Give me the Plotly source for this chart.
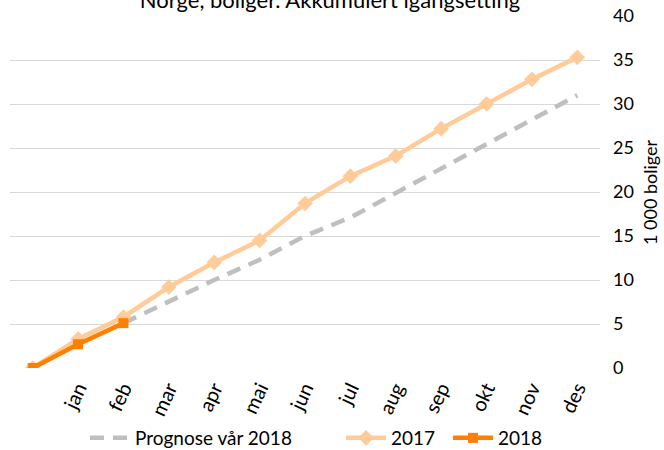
import plotly.graph_objects as go

months = ["", "jan", "feb", "mar", "apr", "mai", "jun", "jul", "aug", "sep", "okt", "nov", "des"]
prognose_2018 = [None, None, 5.1, 7.6, 10.0, 12.3, 15.0, 17.1, 19.9, 22.7, 25.4, 28.3, 31.0]
values_2017 = [0, 3.3, 5.8, 9.2, 12.0, 14.5, 18.7, 21.8, 24.1, 27.2, 30.0, 32.8, 35.3]
values_2018 = [0, 2.7, 5.1]
y_ticks = [0, 5, 10, 15, 20, 25, 30, 35, 40]

idx = list(range(len(months)))
font_family = "Lato, 'Open Sans', sans-serif"

L, R, T, B = 10, 64, 16, 82
W, H = 664, 450
PW = W - L - R
PH = H - T - B


def px2paper_x(px):
    return (px - L) / PW


def px2paper_y(py):
    return (H - B - py) / PH


fig = go.Figure()
fig.add_trace(go.Scatter(
    x=idx, y=prognose_2018, name="Prognose vår 2018", mode="lines",
    line=dict(color="#BFBFBF", width=4.5, dash="14px,9px"),
    legend="legend",
))
fig.add_trace(go.Scatter(
    x=idx, y=values_2017, name="2017", mode="lines+markers",
    line=dict(color="#FFCC99", width=4.5),
    marker=dict(symbol="diamond", size=12, color="#FFCC99"),
    legend="legend2",
))
fig.add_trace(go.Scatter(
    x=idx[:len(values_2018)], y=values_2018, name="2018", mode="lines+markers",
    line=dict(color="#FF7F00", width=4.5),
    marker=dict(symbol="square", size=10, color="#FF7F00"),
    legend="legend3",
))

leg_common = dict(orientation="h", y=px2paper_y(438), yanchor="middle", xanchor="left",
                  font=dict(size=19, color="#000000"), itemwidth=40,
                  bgcolor="rgba(0,0,0,0)", borderwidth=0)

fig.update_layout(
    width=W, height=H,
    margin=dict(l=L, r=R, t=T, b=B, autoexpand=False),
    paper_bgcolor="white", plot_bgcolor="white",
    font=dict(family=font_family, size=18, color="#000000"),
    title=dict(text="Norge, boliger. Akkumulert igangsetting", x=330 / W, xanchor="center",
               y=1.0, yref="container", yanchor="middle",
               font=dict(size=22, color="#000000")),
    showlegend=True,
    legend=dict(x=px2paper_x(85), **leg_common),
    legend2=dict(x=px2paper_x(341), **leg_common),
    legend3=dict(x=px2paper_x(448), **leg_common),
    xaxis=dict(
        tickmode="array", tickvals=idx, ticktext=months, range=[-0.5, 12.5],
        tickangle=-65, showgrid=False, zeroline=False, showline=False, ticks="",
        tickfont=dict(size=20), automargin=False, ticklabelstandoff=4,
    ),
    yaxis=dict(
        side="right", range=[0, 40], tickvals=y_ticks, showgrid=True,
        gridcolor="#D9D9D9", gridwidth=1, zeroline=False, showline=False, ticks="",
        ticklabelstandoff=12, tickfont=dict(size=18), automargin=False,
    ),
    annotations=[dict(
        text="1 000 boliger", xref="paper", yref="paper",
        x=px2paper_x(650), y=0.5, xanchor="center", yanchor="middle",
        textangle=-90, showarrow=False, font=dict(size=18, color="#000000"),
    )],
)

fig.write_html("out.html", config={"displayModeBar": False},
               post_script="document.body.style.margin='0';document.body.style.overflow='hidden';")
